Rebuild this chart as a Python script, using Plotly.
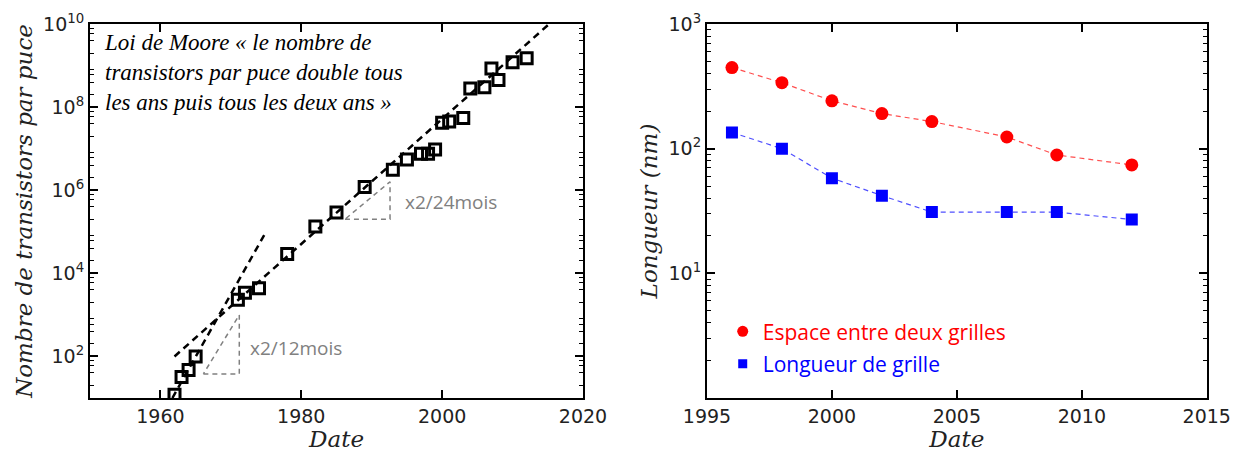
import plotly.graph_objects as go

# ---------------- data: left panel (Moore's law) ----------------
moore_years = [1962, 1963, 1964, 1965, 1971, 1972, 1974, 1978, 1982, 1985, 1989,
               1993, 1995, 1997, 1998, 1999, 2000, 2001, 2003, 2004, 2006, 2007,
               2008, 2010, 2012]
moore_transistors = [12, 32, 47, 100, 2300, 3400, 4400, 29000, 134000, 290000, 1.2e6,
                     3.1e6, 5.5e6, 7.5e6, 7.5e6, 9.5e6, 4.2e7, 4.5e7, 5.5e7, 2.8e8, 3.0e8,
                     8.5e8, 4.5e8, 1.2e9, 1.5e9]

# trend lines
trend12_years = [1961.7, 1975]
trend12_values = [10, 1e5]
trend24_years = [1962, 2015.2]
trend24_values = [1e2, 1e10]

# doubling-time triangles
tri12_years = [1966.1, 1971.2, 1971.2, 1966.1]
tri12_values = [38, 38, 1000, 38]
tri24_years = [1986.2, 1992.6, 1992.6, 1986.2]
tri24_values = [2.0e5, 2.0e5, 1.6e6, 2.0e5]

# ---------------- data: right panel ----------------
node_years = [1996, 1998, 2000, 2002, 2004, 2007, 2009, 2012]
espace_nm = [447, 338, 242, 191, 165, 124, 89, 74]
longueur_nm = [135, 100, 58, 42, 31, 31, 31, 27]

left_ytickvals = [1e2, 1e4, 1e6, 1e8, 1e10]
left_yticktext = ["10<sup>2</sup>", "10<sup>4</sup>", "10<sup>6</sup>", "10<sup>8</sup>", "10<sup>10</sup>"]
right_ytickvals = [1e1, 1e2, 1e3]
right_yticktext = ["10<sup>1</sup>", "10<sup>2</sup>", "10<sup>3</sup>"]

left_minor = [m * 10 ** k for k in range(1, 10) for m in (2, 4, 6, 8)]
right_minor = [m * 10 ** k for k in range(0, 3) for m in range(2, 10)]

fig = go.Figure()

# left panel traces
fig.add_trace(go.Scatter(x=trend12_years, y=trend12_values, mode="lines",
                         line=dict(color="black", width=2.5, dash="7px,5px"),
                         xaxis="x", yaxis="y", showlegend=False))
fig.add_trace(go.Scatter(x=trend24_years, y=trend24_values, mode="lines",
                         line=dict(color="black", width=2.5, dash="7px,5px"),
                         xaxis="x", yaxis="y", showlegend=False))
fig.add_trace(go.Scatter(x=tri12_years, y=tri12_values, mode="lines",
                         line=dict(color="#808080", width=1.5, dash="5px,4px"),
                         xaxis="x", yaxis="y", showlegend=False))
fig.add_trace(go.Scatter(x=tri24_years, y=tri24_values, mode="lines",
                         line=dict(color="#808080", width=1.5, dash="5px,4px"),
                         xaxis="x", yaxis="y", showlegend=False))
fig.add_trace(go.Scatter(x=moore_years, y=moore_transistors, mode="markers",
                         marker=dict(symbol="square-open", size=11, color="black",
                                     line=dict(width=3, color="black")),
                         xaxis="x", yaxis="y", showlegend=False))

# right panel traces
fig.add_trace(go.Scatter(x=node_years, y=espace_nm, mode="lines+markers",
                         line=dict(color="rgba(255,60,60,0.9)", width=1.2, dash="5px,4px"),
                         marker=dict(symbol="circle", size=13, color="#ff0000"),
                         xaxis="x2", yaxis="y2", showlegend=False))
fig.add_trace(go.Scatter(x=node_years, y=longueur_nm, mode="lines+markers",
                         line=dict(color="rgba(60,60,255,0.9)", width=1.2, dash="5px,4px"),
                         marker=dict(symbol="square", size=12, color="#0000ff"),
                         xaxis="x2", yaxis="y2", showlegend=False))
# legend entries
fig.add_trace(go.Scatter(x=[None], y=[None], mode="markers", name="Espace entre deux grilles",
                         marker=dict(symbol="circle", size=11, color="#ff0000"),
                         xaxis="x2", yaxis="y2", legend="legend"))
fig.add_trace(go.Scatter(x=[None], y=[None], mode="markers", name="Longueur de grille",
                         marker=dict(symbol="square", size=9, color="#0000ff"),
                         xaxis="x2", yaxis="y2", legend="legend2"))

tickfont = dict(family="DejaVu Sans", size=19, color="#222222")
titlefont = dict(family="DejaVu Serif", size=23, color="#222222")
common = dict(showline=True, linewidth=2, linecolor="black", mirror="ticks",
              ticks="inside", ticklen=8, tickwidth=1.5, tickcolor="black",
              showgrid=False, zeroline=False, tickfont=tickfont, automargin=False)

W, H = 1231, 444
fig.update_layout(
    width=W, height=H,
    margin=dict(l=0, r=0, t=0, b=0),
    paper_bgcolor="white", plot_bgcolor="white",
    xaxis=dict(domain=[0.0666, 0.4671], range=[1950, 2020], tick0=1960, dtick=20,
               anchor="y", title=dict(text="<i>Date</i>", font=titlefont, standoff=5),
               **common),
    yaxis=dict(domain=[0.1216, 0.964], type="log", range=[1, 10],
               tickvals=left_ytickvals, ticktext=left_yticktext, anchor="x",
               minor=dict(tickvals=left_minor, ticks="inside", ticklen=4, tickwidth=1, tickcolor="black"),
               title=dict(text="<i>Nombre de transistors par puce</i>", font=titlefont, standoff=4),
               **common),
    xaxis2=dict(domain=[0.5678, 0.9738], range=[1995, 2015], tick0=1995, dtick=5,
                anchor="y2", title=dict(text="<i>Date</i>", font=titlefont, standoff=5),
                **common),
    yaxis2=dict(domain=[0.1216, 0.964], type="log", range=[0, 3],
                tickvals=right_ytickvals, ticktext=right_yticktext, anchor="x2",
                minor=dict(tickvals=right_minor, ticks="inside", ticklen=4, tickwidth=1, tickcolor="black"),
                title=dict(text="<i>Longueur (nm)</i>", font=titlefont, standoff=4),
                **common),
    legend=dict(x=0.5806, y=0.271, xanchor="left", yanchor="middle",
                bgcolor="rgba(0,0,0,0)", font=dict(family="Open Sans", size=21, color="#ff0000")),
    legend2=dict(x=0.5806, y=0.198, xanchor="left", yanchor="middle",
                 bgcolor="rgba(0,0,0,0)", font=dict(family="Open Sans", size=21, color="#0000ff")),
    annotations=[
        dict(xref="x domain", yref="y domain", x=0.024, y=0.99, xanchor="left", yanchor="top",
             align="left", showarrow=False,
             text="Loi de Moore « le nombre de<br>transistors par puce double tous<br>les ans puis tous les deux ans »",
             font=dict(family="Liberation Serif", size=23, color="black", style="italic")),
        dict(xref="x", yref="y", x=1972.4, y=2.2, xanchor="left", yanchor="middle",
             showarrow=False, text="x2/12mois",
             font=dict(family="Open Sans", size=19, color="#808080")),
        dict(xref="x", yref="y", x=1994.4, y=5.72, xanchor="left", yanchor="middle",
             showarrow=False, text="x2/24mois",
             font=dict(family="Open Sans", size=19, color="#808080")),
    ],
)

fig.write_html("out.html")
